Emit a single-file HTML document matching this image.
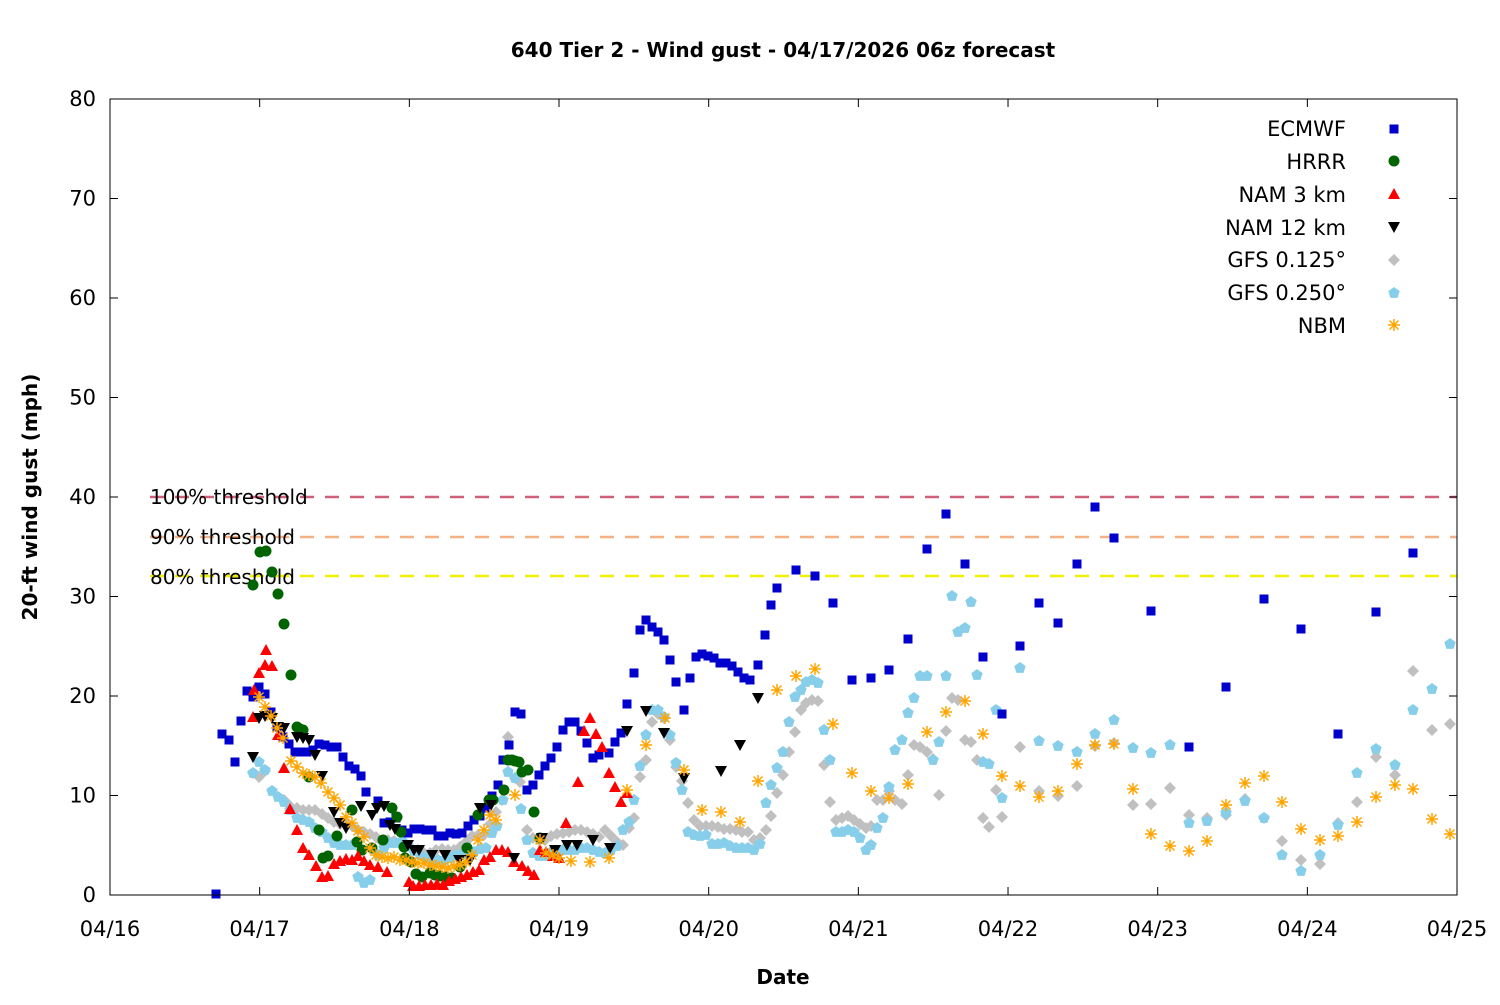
<!DOCTYPE html>
<html><head><meta charset="utf-8"><style>
html,body{margin:0;padding:0;background:#fff;}
svg text{font-family:"DejaVu Sans","Liberation Sans",sans-serif;}
</style></head><body>
<svg id="s" width="1500" height="1000" xmlns="http://www.w3.org/2000/svg">
<rect width="1500" height="1000" fill="#fff"/>
<text x="783" y="57" text-anchor="middle" font-size="20" font-weight="bold">640 Tier 2 - Wind gust - 04/17/2026 06z forecast</text>
<g stroke-width="2.5" stroke-dasharray="14,11">
<line x1="150" y1="497" x2="1457" y2="497" stroke="#d0607a"/>
<line x1="150" y1="537" x2="1457" y2="537" stroke="#f4b183"/>
<line x1="150" y1="576" x2="1457" y2="576" stroke="#f0f000"/>
</g>
<g font-size="20" fill="#000">
<text x="150" y="504">100% threshold</text>
<text x="150" y="544">90% threshold</text>
<text x="150" y="584">80% threshold</text>
</g>
<g id="pts"></g>
<rect x="110" y="99" width="1347" height="796" fill="none" stroke="#000" stroke-width="1"/>
<g id="ax" font-size="21" fill="#000"></g>
<text x="783" y="984" text-anchor="middle" font-size="20" font-weight="bold">Date</text>
<text transform="translate(37,497) rotate(-90)" text-anchor="middle" font-size="20" font-weight="bold">20-ft wind gust (mph)</text>
<g font-size="21" text-anchor="end">
<text x="1346" y="136">ECMWF</text>
<text x="1346" y="169">HRRR</text>
<text x="1346" y="202">NAM 3 km</text>
<text x="1346" y="235">NAM 12 km</text>
<text x="1346" y="267">GFS 0.125°</text>
<text x="1346" y="300">GFS 0.250°</text>
<text x="1346" y="333">NBM</text>
</g>
<g id="leg"></g>
</svg>
<script>
var NS="http://www.w3.org/2000/svg";
function el(p,t,a){var e=document.createElementNS(NS,t);for(var k in a)e.setAttribute(k,a[k]);p.appendChild(e);return e;}
var ax=document.getElementById('ax');
for(var i=0;i<=8;i++){var y=895-i*99.5;el(ax,'line',{x1:110,y1:y,x2:118,y2:y,stroke:'#000'});el(ax,'line',{x1:1449,y1:y,x2:1457,y2:y,stroke:'#000'});var t=el(ax,'text',{x:96,y:y+7,'text-anchor':'end'});t.textContent=i*10;}
var days=['04/16','04/17','04/18','04/19','04/20','04/21','04/22','04/23','04/24','04/25'];
for(var i=0;i<10;i++){var x=110+i*149.67;el(ax,'line',{x1:x,y1:895,x2:x,y2:887,stroke:'#000'});el(ax,'line',{x1:x,y1:99,x2:x,y2:107,stroke:'#000'});var t=el(ax,'text',{x:x,y:936,'text-anchor':'middle'});t.textContent=days[i];}
function sym(g,type,x,y){
 if(type==0)el(g,'rect',{x:x-4.5,y:y-4.5,width:9,height:9,fill:'#0000cd'});
 else if(type==1)el(g,'circle',{cx:x,cy:y,r:5.5,fill:'#006400'});
 else if(type==2)el(g,'polygon',{points:(x)+','+(y-6)+' '+(x+6)+','+(y+5)+' '+(x-6)+','+(y+5),fill:'#ff0000'});
 else if(type==3)el(g,'polygon',{points:(x)+','+(y+6)+' '+(x+6)+','+(y-5)+' '+(x-6)+','+(y-5),fill:'#000'});
 else if(type==4)el(g,'polygon',{points:(x)+','+(y-6)+' '+(x+6)+','+y+' '+x+','+(y+6)+' '+(x-6)+','+y,fill:'#c0c0c0'});
 else if(type==5){var p=[];for(var k=0;k<5;k++){var a=-Math.PI/2+k*2*Math.PI/5;p.push((x+6*Math.cos(a)).toFixed(1)+','+(y+6*Math.sin(a)).toFixed(1));}el(g,'polygon',{points:p.join(' '),fill:'#87ceeb'});}
 else if(type==6){var d='M'+(x-6)+' '+y+'h12M'+x+' '+(y-6)+'v12M'+(x-4.5)+' '+(y-4.5)+'l9 9M'+(x+4.5)+' '+(y-4.5)+'l-9 9';el(g,'path',{d:d,stroke:'#ffa500','stroke-width':1.5,fill:'none'});}
}
var D=[];
D[4]=[253,773,259,777,265,771,284,800,290,806,297,808,303,810,309,810,315,810,322,814,328,818,334,822,340,824,346,824,352,826,358,830,364,832,370,834,376,837,382,842,388,840,394,841,400,843,406,846,412,849,418,850,424,853,430,853,436,850,442,849,448,850,454,850,460,847,466,842,472,836,478,835,484,835,490,824,496,812,502,800,508,737,515,778,520,782,527,830,533,838,539,840,545,840,551,836,557,834,563,833,569,832,575,830,581,830,587,832,593,834,599,837,605,830,611,836,617,842,623,845,629,828,634,818,640,777,646,760,652,722,658,714,664,718,670,740,676,767,682,781,688,803,694,820,700,826,706,826,712,826,718,827,724,829,730,829,736,830,742,832,748,832,754,840,760,838,766,830,771,816,777,793,783,775,789,752,795,732,801,710,806,703,812,700,818,701,824,765,830,802,836,820,842,818,848,816,854,820,860,824,866,828,871,826,877,800,883,800,889,791,895,800,902,804,908,775,914,745,920,747,927,752,933,759,939,795,946,731,952,698,958,700,965,740,971,742,977,760,983,818,989,827,996,790,1002,817,1020,747,1039,791,1058,796,1077,786,1095,746,1114,743,1133,805,1151,804,1170,788,1189,815,1207,818,1226,815,1245,799,1264,818,1282,841,1301,860,1320,864,1338,823,1357,802,1376,757,1395,775,1413,671,1432,730,1450,724];
D[5]=[253,773,259,762,265,770,272,791,278,797,284,802,290,810,297,818,303,820,309,822,315,828,322,832,328,838,334,843,340,845,346,845,352,845,358,877,364,883,370,880,378,855,384,848,390,843,396,843,402,841,408,846,414,851,420,855,426,858,432,860,438,860,444,860,450,858,456,855,462,854,468,854,474,852,480,849,486,848,492,833,497,826,503,800,508,772,515,778,521,809,527,840,533,853,539,856,545,856,551,852,557,852,563,850,569,850,575,850,581,848,587,848,593,850,599,852,605,853,611,850,617,846,623,830,629,822,634,800,640,766,646,735,652,710,658,710,664,717,670,735,676,763,682,790,688,832,694,835,700,836,706,835,712,844,718,844,724,843,730,846,736,848,742,848,748,848,754,850,760,844,766,803,771,785,777,768,783,752,789,722,795,697,801,690,806,682,812,680,818,683,824,730,830,760,836,832,842,832,848,830,854,832,860,838,866,850,871,845,877,828,883,818,889,787,895,750,902,740,908,713,914,698,920,676,927,676,933,760,939,742,946,676,952,596,958,632,965,628,971,602,977,675,983,762,989,764,996,710,1002,798,1020,668,1039,741,1058,746,1077,752,1095,734,1114,720,1133,748,1151,753,1170,745,1189,823,1207,821,1226,813,1245,801,1264,818,1282,855,1301,871,1320,855,1338,825,1357,773,1376,749,1395,765,1413,710,1432,689,1450,644];
D[2]=[253,717,259,673,266,650,272,666,278,735,284,768,290,809,297,830,303,848,309,855,316,866,322,877,328,876,334,864,340,861,346,859,352,860,358,856,364,861,370,865,378,867,387,872,409,882,413,886,419,886,425,885,431,885,437,884,443,885,449,881,455,879,461,877,467,875,473,872,479,870,484,860,490,857,496,850,502,850,508,852,514,862,522,866,528,871,534,875,540,850,546,852,553,856,559,858,566,823,578,782,584,731,590,718,596,734,602,747,609,773,615,787,621,802,627,793,254,690,265,665];
D[1]=[253,585,260,552,266,551,272,572,278,594,284,624,291,675,297,727,300,729,303,730,309,777,319,830,323,858,328,856,337,836,352,810,357,842,362,850,372,848,383,840,392,808,397,817,401,832,404,847,405,858,411,862,416,874,422,877,430,873,435,875,440,876,446,877,452,878,460,867,467,848,478,815,489,800,493,800,504,790,508,760,512,760,515,761,519,762,522,772,528,770,534,812,540,838];
D[3]=[253,757,259,718,265,716,272,718,278,727,284,728,297,737,303,738,309,740,315,755,322,776,334,812,340,823,346,828,361,806,372,815,377,808,384,806,390,825,395,829,408,845,414,850,419,850,432,855,445,855,459,860,470,860,480,808,491,805,514,858,542,838,555,850,567,845,577,845,593,840,610,848,627,731,646,711,664,733,684,778,721,771,740,745,758,698];
D[0]=[216,894,222,734,229,740,235,762,241,721,247,691,253,697,259,687,265,694,271,712,277,727,283,737,289,744,295,752,301,752,307,752,313,750,319,744,325,745,331,747,337,747,343,757,349,766,355,769,361,776,366,792,378,801,384,823,390,822,396,818,402,830,408,833,414,829,420,829,426,830,432,830,438,836,444,836,450,833,456,834,462,833,468,826,474,820,480,816,486,808,492,796,498,785,503,760,509,745,515,712,521,714,527,790,533,785,539,775,545,766,551,758,557,747,563,730,569,722,575,722,581,731,587,743,593,758,599,755,609,753,615,742,621,733,627,704,634,673,640,630,646,620,652,627,658,632,664,640,670,660,676,682,684,710,690,678,696,657,702,654,708,656,714,658,720,663,726,663,732,666,738,672,744,678,750,680,758,665,765,635,771,605,777,588,796,570,815,576,833,603,852,680,871,678,889,670,908,639,927,549,946,514,965,564,983,657,1002,714,1020,646,1039,603,1058,623,1077,564,1095,507,1114,538,1151,611,1189,747,1226,687,1264,599,1301,629,1338,734,1376,612,1413,553];
D[6]=[259,697,265,707,271,716,277,728,283,738,291,761,297,767,303,773,309,775,315,777,321,783,328,792,334,798,340,805,346,817,352,823,358,831,364,837,370,848,376,855,382,857,388,858,394,857,400,860,406,860,412,862,418,863,424,863,430,865,436,866,442,867,448,868,454,866,460,865,466,862,472,855,478,840,484,830,490,815,496,820,515,795,540,840,546,853,553,855,559,858,571,861,590,862,609,858,627,790,646,745,665,718,684,770,702,810,721,812,740,822,758,781,777,690,796,676,815,669,833,724,852,773,871,791,889,798,908,784,927,732,946,712,965,701,983,734,1002,776,1020,786,1039,797,1058,791,1077,764,1095,745,1114,744,1133,789,1151,834,1170,846,1189,851,1207,841,1226,805,1245,783,1264,776,1282,802,1301,829,1320,840,1338,836,1357,822,1376,797,1395,785,1413,789,1432,819,1450,834];
var g=document.getElementById('pts');
[4,5,0,1,2,3,6].forEach(function(t){var a=D[t];for(var i=0;i<a.length;i+=2)sym(g,t,a[i],a[i+1]);});
var L=document.getElementById('leg');
[129,161,194,227,260,293,325].forEach(function(y,i){sym(L,i,1394,y);});
</script>
</body></html>
